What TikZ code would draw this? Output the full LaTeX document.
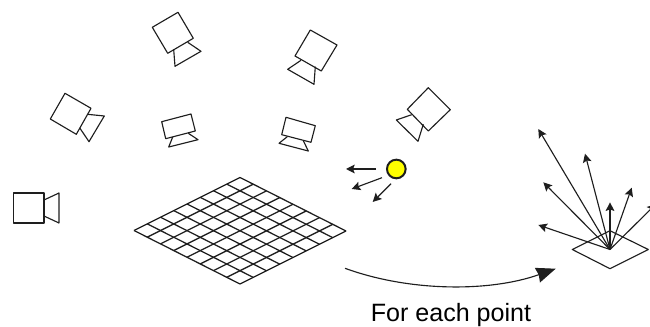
\documentclass[tikz,border=0pt]{standalone}
\usepackage{fontspec}
\setmainfont{Liberation Sans}
\usetikzlibrary{arrows.meta,calc}
\definecolor{lineInk}{RGB}{30,30,30}
\definecolor{lightYellow}{RGB}{255,255,0}
\tikzset{
  camline/.style={draw=lineInk,line width=0.85pt,line join=round},
  gridline/.style={draw=lineInk,line width=0.95pt},
  smallarrow/.style={-{Stealth[length=6.5pt,width=6.5pt,inset=1.2pt]},lineInk,line width=0.85pt},
  bigarrow/.style={-{Stealth[length=14.5pt,width=11.5pt,inset=1pt]},lineInk,line width=0.85pt},
}

\begin{document}
\begin{tikzpicture}[x=0.75pt,y=-0.75pt]
\useasboundingbox (0,0) rectangle (650,327);

% =================================================================
% cameras -- body, then lens
% =================================================================
\draw[camline] (13.5,193) -- (44,193) -- (44,223) -- (13.5,223) -- cycle;
\draw[camline] (44,200) -- (59,193) -- (59,223) -- (44,216);

\draw[camline] (65,93.3) -- (91,108.3) -- (76.3,134.3) -- (50.3,119) -- cycle;
\draw[camline] (87.3,114.3) -- (104.3,116) -- (89,141.7) -- (80,128.3);

\draw[camline] (152.3,27.3) -- (178,12.3) -- (193.3,38.3) -- (167.7,53.3) -- cycle;
\draw[camline] (187.7,42.3) -- (201,51.3) -- (175,66.3) -- (173.7,49.7);

\draw[camline] (161.7,121.7) -- (191,114) -- (195.3,131) -- (165.7,138.7) -- cycle;
\draw[camline] (188.3,133.3) -- (198,139.7) -- (168.7,147) -- (172.7,137);

\draw[camline] (286,117.3) -- (315.3,125.7) -- (311,142.3) -- (281.7,134.7) -- cycle;
\draw[camline] (287.3,136.7) -- (279,143.3) -- (308.3,151) -- (303.3,140.7);

\draw[camline] (310.3,30) -- (337,45) -- (321.3,71) -- (295,56) -- cycle;
\draw[camline] (301,60.3) -- (287.7,69.3) -- (314,84.3) -- (315.3,66.7);

\draw[camline] (428.3,87.7) -- (450.3,109.7) -- (428.3,131) -- (407.3,109.3) -- cycle;
\draw[camline] (411.7,114.7) -- (396.3,120) -- (418,141.3) -- (423.3,124.3);

% =================================================================
% surface grid
% =================================================================
\coordinate (gl) at (134,230.5);
\coordinate (gt) at (240,177.5);
\coordinate (gb) at (240,284);
\coordinate (gr) at (346,231);
\foreach \i in {0,...,8}{
  \draw[gridline] ($(gl)!\i/8!(gt)$) -- ($(gb)!\i/8!(gr)$);
  \draw[gridline] ($(gl)!\i/8!(gb)$) -- ($(gt)!\i/8!(gr)$);
}

% =================================================================
% point light and its rays
% =================================================================
\node[circle,draw=lineInk,fill=lightYellow,line width=1.5pt,minimum size=14pt,inner sep=0pt]
  (light) at (396.3,169) {};
\coordinate (l1a) at (376,169);      \coordinate (l1b) at (346,169);
\coordinate (l2a) at (382,177.7);    \coordinate (l2b) at (351.7,189);
\coordinate (l3a) at (391,183.7);    \coordinate (l3b) at (372.7,202);
\foreach \a/\b in {l1a/l1b, l2a/l2b, l3a/l3b}
  \draw[smallarrow] (\a) -- (\b);

% =================================================================
% patch with outgoing rays
% =================================================================
\coordinate (pt) at (610,249.5);
\coordinate (pl) at (572.3,249.5);
\coordinate (pn) at (610,230.7);
\coordinate (pr) at (648.3,249.5);
\coordinate (ps) at (610,268.7);
\draw[camline] (pl) -- (pn) -- (pr) -- (ps) -- cycle;

\coordinate (r1) at (538.3,129);
\coordinate (r2) at (585,153.7);
\coordinate (r3) at (543.3,182.3);
\coordinate (r4) at (538.3,225);
\coordinate (r5) at (610,202.3);
\coordinate (r6) at (631.7,187.7);
\coordinate (r7) at (656,204);
\foreach \r in {r1,r2,r3,r4,r5,r6,r7}
  \draw[smallarrow] (pt) -- (\r);

% =================================================================
% curved arrow and caption
% =================================================================
\coordinate (cs) at (345,268.3);
\coordinate (ce) at (555.7,268.7);
\draw[bigarrow] (cs) .. controls (410,292) and (490,292) .. (ce);
\node[font=\fontsize{18.8}{22}\selectfont,text=black] (caption) at (451,315.5) {For each point};
\end{tikzpicture}
\end{document}
